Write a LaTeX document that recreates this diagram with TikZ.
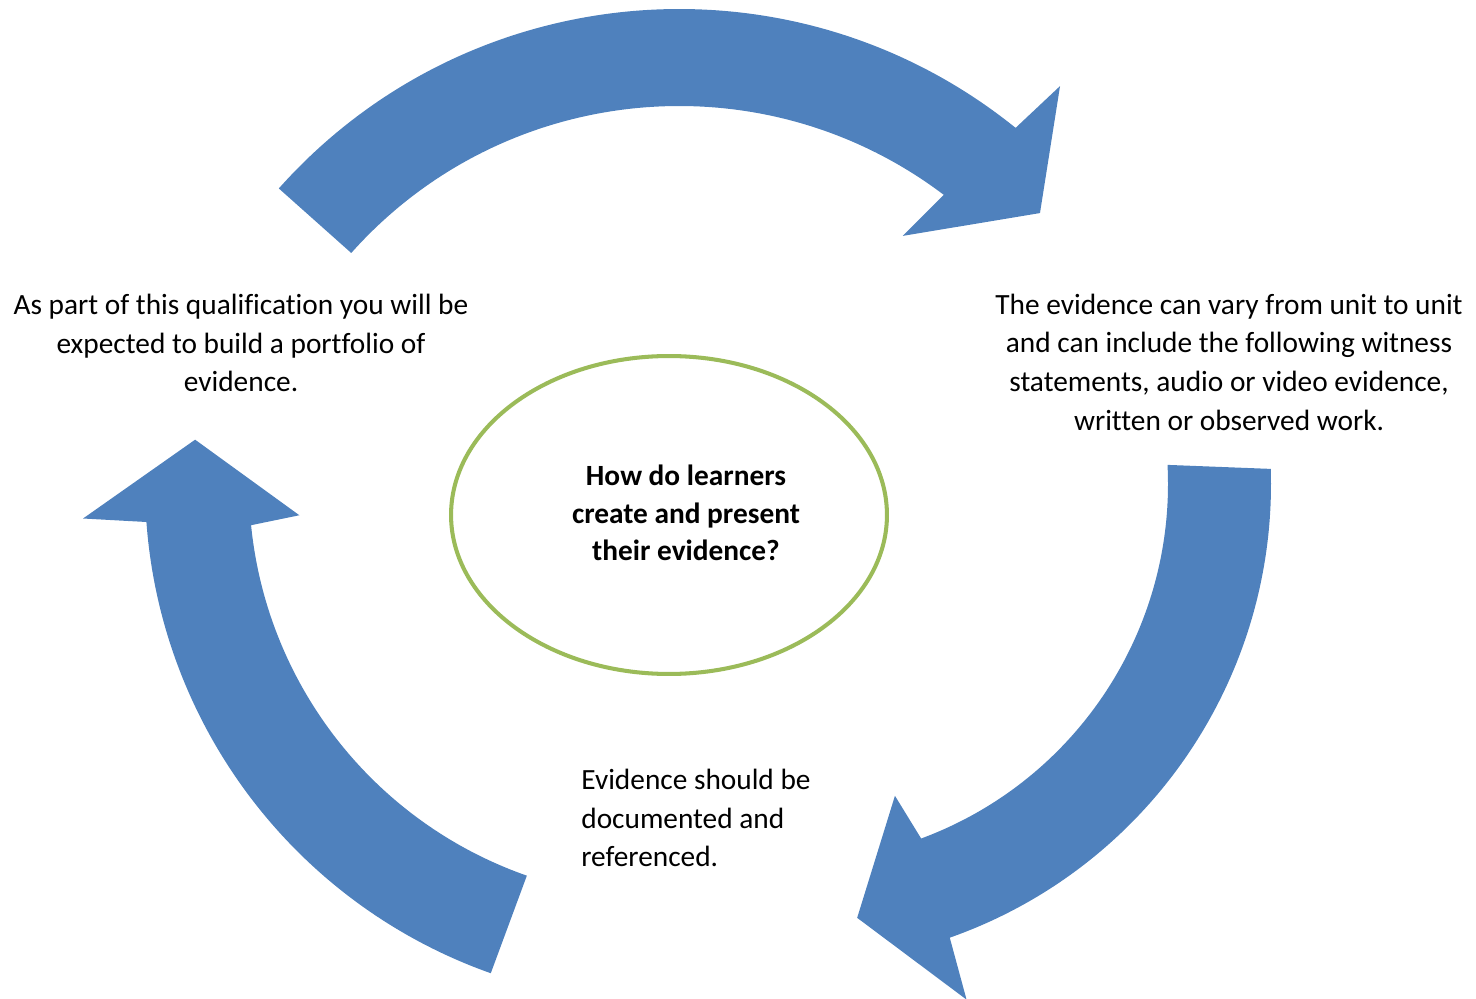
\documentclass[tikz,border=0pt]{standalone}
\usepackage{fontspec}
\setmainfont{Carlito}[Ligatures=NoCommon]
\usetikzlibrary{shapes.geometric,calc}
\definecolor{flechaazul}{HTML}{4F81BD}
\definecolor{bordeverde}{HTML}{9BBB59}
\tikzset{
    flecha/.style = {
    	fill=flechaazul,
    	draw=none
    },
    pregunta/.style = {
    	ellipse,
    	draw=bordeverde,
    	line width=2.3pt,
    	minimum width=8.72cm,
    	minimum height=6.36cm,
    	inner sep=0pt
    },
    texto/.style = {
    	font=\fontsize{16.7}{22}\selectfont,
    	inner sep=0pt,
    	align=center
    },
    textonegrita/.style = {
    	texto,
    	font=\fontsize{16.7}{21.3}\selectfont\bfseries
    }
}
\begin{document}
\begin{tikzpicture}[x=0.02cm, y=0.02cm]

	\useasboundingbox (0,0) rectangle (1476,998);

	% Centros de las flechas
	\coordinate (CA) at (679,453);
	\coordinate (CD) at (790,514);
	\coordinate (CI) at (664,514);

	% Flecha de arriba
	\path (CA) + (138.3:536) coordinate (A1);
	\path (CA) + (50.3:596.5) coordinate (A2);
	\path (CA) + (42.6:490.4) coordinate (A3);
	\path (CA) + (54.1:381.6) coordinate (A4);
	\path (CA) + (52.9:439) coordinate (A5);

	% Flecha de la derecha
	\path (CD) + (1.8:481) coordinate (D1);
	\path (CD) + (-71.1:545) coordinate (D2);
	\path (CD) + (-81.2:439) coordinate (D3);
	\path (CD) + (-71.4:329) coordinate (D4);
	\path (CD) + (-69.7:378) coordinate (D5);

	% Flecha de la izquierda
	\path (CI) + (250.5:519) coordinate (I1);
	\path (CI) + (183.4:582) coordinate (I2);
	\path (CI) + (174.6:471) coordinate (I3);
	\path (CI) + (184.9:366) coordinate (I4);
	\path (CI) + (185.7:415) coordinate (I5);

	\fill[flecha] (A1) arc[start angle=138.3, end angle=51.1, radius=536]
		-- (A2) -- (A3) -- (A4) -- (A5)
		arc[start angle=52.9, end angle=138.3, radius=439] -- cycle;

	\fill[flecha] (D1) arc[start angle=1.8, end angle=-70.6, radius=481]
		-- (D2) -- (D3) -- (D4) -- (D5)
		arc[start angle=-69.7, end angle=2.9, radius=378] -- cycle;

	\fill[flecha] (I1) arc[start angle=250.5, end angle=184.2, radius=519]
		-- (I2) -- (I3) -- (I4) -- (I5)
		arc[start angle=185.7, end angle=250.7, radius=415] -- cycle;

	% Textos
	\node[texto] (portafolio) at (241,655)
		{As part of this qualification you will be\\expected to build a portfolio of\\evidence.};
	\node[texto] (evidencia) at (1229,636)
		{The evidence can vary from unit to unit\\and can include the following witness\\statements, audio or video evidence,\\written or observed work.};
	\node[texto, align=left, anchor=west] (documentado) at (581,180)
		{Evidence should be\\documented and\\referenced.};

	% Ovalo central
	\node[pregunta] (ovalo) at (669,483) {};
	\node[textonegrita] (preguntatexto) at ($(ovalo.center)+(17,2)$)
		{How do learners\\create and present\\their evidence?};

\end{tikzpicture}
\end{document}
